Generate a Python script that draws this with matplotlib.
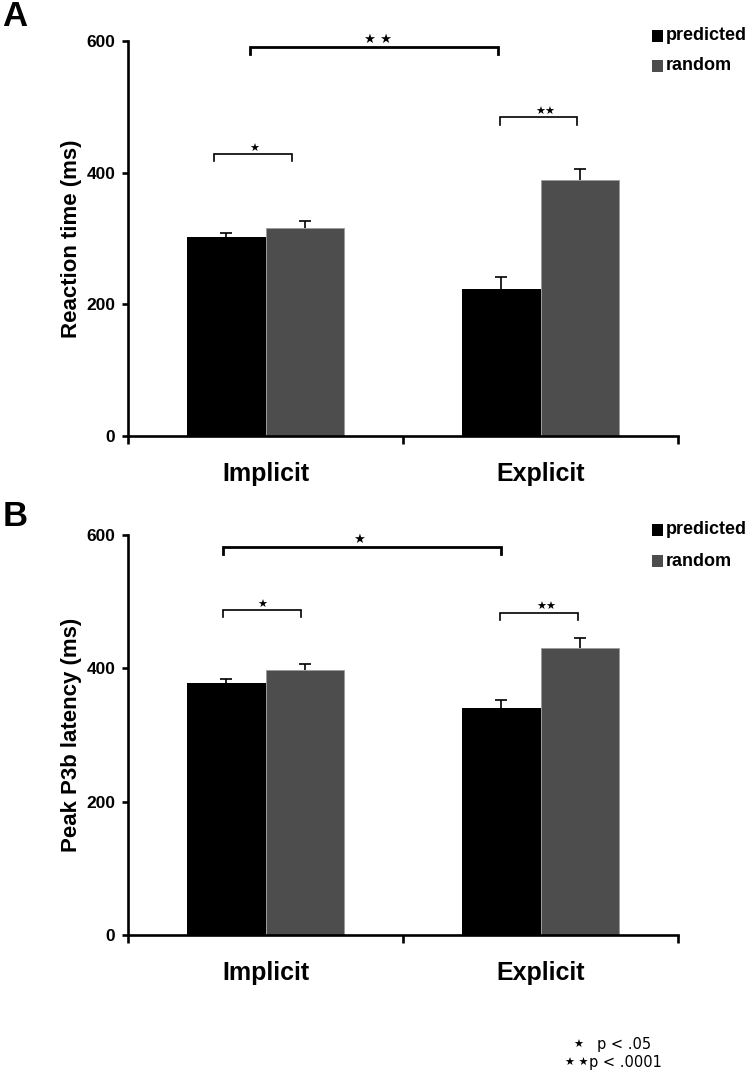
import matplotlib
matplotlib.use("Agg")
import matplotlib.pyplot as plt

plt.rcParams['font.family'] = ['Liberation Sans', 'DejaVu Sans']

groups = ["Implicit", "Explicit"]
series = ["predicted", "random"]
colors = ["#000000", "#4d4d4d"]

# panel A: reaction time (ms)
rt_pred = [302, 223]
rt_rand = [316, 389]
rt_pred_err = [7, 19]
rt_rand_err = [10, 17]

# panel B: peak P3b latency (ms)
p3_pred = [378, 340]
p3_rand = [397, 431]
p3_pred_err = [6, 13]
p3_rand_err = [9, 15]

# significance brackets: (x_left, x_right, y, drop, stars, star_x)
rt_brackets = [(-0.056, 0.845, 591, 10, "★ ★", 0.41),
               (-0.187, 0.096, 428, 11, "★", -0.04),
               (0.851, 1.133, 484, 12, "★★", 1.016)]
p3_brackets = [(-0.155, 0.855, 582, 10, "★", 0.34),
               (-0.155, 0.129, 487, 10, "★", -0.01),
               (0.851, 1.136, 483, 11, "★★", 1.02)]

W, H = 751, 1077
fig = plt.figure(figsize=(W / 100, H / 100), dpi=100)

bw = 0.285
off = 0.1425


def up_err(ax, xs, vals, errs):
    # only the upper half of the error bar, as in the original
    tops = [v + e for v, e in zip(vals, errs)]
    ax.vlines(xs, vals, tops, color="black", lw=1.2, zorder=3)
    ax.plot(xs, tops, ls="none", marker="_", ms=8, mew=1.2, color="black", zorder=3)


def panel(rect, pred, rand, perr, rerr, brackets, ylabel, letter, letter_y, leg_y):
    ax = fig.add_axes(rect)
    xs = range(len(groups))
    xp = [x - off for x in xs]
    xr = [x + off for x in xs]
    ax.bar(xp, pred, bw, color=colors[0], zorder=2)
    ax.bar(xr, rand, bw, color=colors[1], edgecolor="#9a9a9a", linewidth=0.6, zorder=2)
    up_err(ax, xp, pred, perr)
    up_err(ax, xr, rand, rerr)

    for i, (x0, x1, y, d, st, sx) in enumerate(brackets):
        lw = 2.0 if i == 0 else 1.2
        ax.plot([x0, x0, x1, x1], [y - d, y, y, y - d], color="black",
                lw=lw, solid_joinstyle="miter", clip_on=False)
        ax.text(sx, y + 1, st, ha="center", va="bottom",
                fontsize=9.5 if i == 0 else 8, family="DejaVu Sans")

    ax.set_xlim(-0.5, 1.5)
    ax.set_ylim(0, 600)
    ax.spines["top"].set_visible(False)
    ax.spines["right"].set_visible(False)
    ax.spines["left"].set_linewidth(1.9)
    ax.spines["bottom"].set_linewidth(1.9)
    ax.set_yticks([0, 200, 400, 600])
    ax.set_yticklabels(["0", "200", "400", "600"], fontweight="bold", fontsize=12.5)
    ax.tick_params(axis="y", direction="out", length=4, width=1.9, pad=5)
    ax.set_xticks([-0.5, 0.5, 1.5])
    ax.set_xticklabels([])
    ax.tick_params(axis="x", which="major", direction="out", length=6, width=1.9)
    ax.set_xticks([0, 1], minor=True)
    ax.set_xticklabels(groups, minor=True, fontweight="bold", fontsize=18)
    ax.tick_params(axis="x", which="minor", length=0, pad=19)

    bbox = ax.get_position()
    fig.text(71 / W, (bbox.y0 + bbox.y1) / 2, ylabel, rotation=90,
             ha="center", va="center", fontweight="bold", fontsize=16)
    fig.text(15 / W, 1 - letter_y / H, letter, ha="center", va="center",
             fontweight="bold", fontsize=25)

    # legend drawn as squares + text in figure pixels
    for k, name in enumerate(series):
        yc = 1 - leg_y[k] / H
        fig.patches.append(plt.Rectangle((652 / W, yc - 6 / H), 11 / W, 12 / H,
                                         transform=fig.transFigure,
                                         facecolor=colors[k], edgecolor="none"))
        fig.text(666 / W, yc, name, ha="left", va="center",
                 fontweight="bold", fontsize=13)
    return ax


axA = panel([128 / W, 1 - 436 / H, 550 / W, 395 / H], rt_pred, rt_rand,
            rt_pred_err, rt_rand_err, rt_brackets, "Reaction time (ms)",
            "A", 16, [36, 66])
axB = panel([128 / W, 1 - 935 / H, 550 / W, 400 / H], p3_pred, p3_rand,
            p3_pred_err, p3_rand_err, p3_brackets, "Peak P3b latency (ms)",
            "B", 516, [530, 561])

fig.text(578 / W, 1 - 1045 / H, "★", ha="center", va="center",
         fontsize=8, family="DejaVu Sans")
fig.text(597 / W, 1 - 1045 / H, "p < .05", ha="left", va="center",
         fontsize=10.5, family="DejaVu Sans")
fig.text(577 / W, 1 - 1063 / H, "★ ★", ha="center", va="center",
         fontsize=8, family="DejaVu Sans")
fig.text(589 / W, 1 - 1063 / H, "p < .0001", ha="left", va="center",
         fontsize=10.5, family="DejaVu Sans")

fig.savefig("out.png", dpi=100)
